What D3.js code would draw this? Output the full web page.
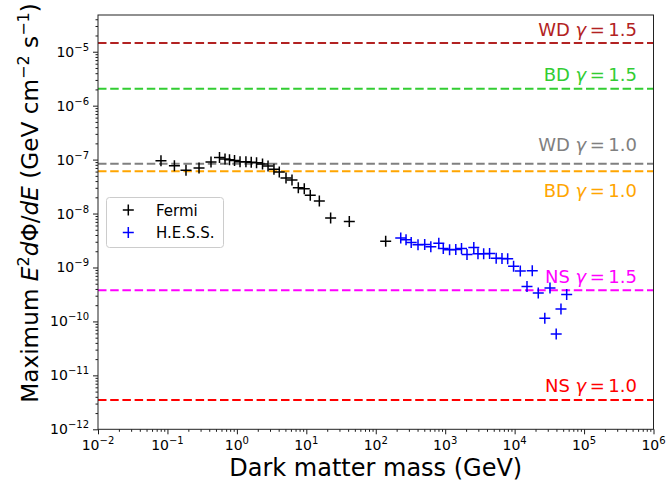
<!DOCTYPE html>
<html><head><meta charset="utf-8">
<script src="https://cdn.jsdelivr.net/npm/d3@7"></script>
<style>
body{margin:0;background:#fff;}
text{font-family:"DejaVu Sans",sans-serif;}
</style></head>
<body><svg id="c" width="668" height="484"></svg>
<script>
// ---- data ----
const fermiMass = [0.0807,0.126,0.185,0.285,0.424,0.562,0.675,0.783,0.925,1.11,1.35,1.61,1.92,2.34,2.81,3.42,4.08,5.10,6.22,7.67,9.35,11.4,15.4,22.4,41.6,139];
const fermiFlux = [9.55e-8,7.71e-8,6.34e-8,6.98e-8,9.03e-8,1.10e-7,1.03e-7,9.95e-8,9.62e-8,9.14e-8,9.14e-8,8.91e-8,8.77e-8,8.28e-8,7.60e-8,6.61e-8,5.89e-8,4.56e-8,4.19e-8,3.01e-8,2.89e-8,2.18e-8,1.71e-8,8.26e-9,7.11e-9,3.05e-9];
const hessMass = [229,273,324,406,507,621,809,939,1157,1421,1718,2061,2582,2966,3583,4357,5425,6577,7943,9660,12070,15070,17950,21900,27200,32300,39700,46500,56200];
const hessFlux = [3.52e-9,3.27e-9,2.90e-9,2.63e-9,2.67e-9,2.43e-9,2.81e-9,2.25e-9,2.14e-9,2.15e-9,2.25e-9,1.74e-9,2.35e-9,1.79e-9,1.79e-9,1.81e-9,1.49e-9,1.47e-9,1.45e-9,1.05e-9,8.61e-10,4.43e-10,8.71e-10,3.37e-10,1.15e-10,4.17e-10,5.85e-11,1.70e-10,3.16e-10];
const limitObject = ["WD","BD","WD","BD","NS","NS"];
const limitGamma = ["1.5","1.5","1.0","1.0","1.5","1.0"];
const limitValue = [1.45e-5,2.07e-6,8.4e-8,6.07e-8,3.78e-10,3.49e-12];
const limitColor = ["#b22222","#32cd32","#808080","#ffa500","#ff00ff","#ff0000"];
const xTickExp = [-2,-1,0,1,2,3,4,5,6];
const yTickExp = [-12,-11,-10,-9,-8,-7,-6,-5];
const legendNames = ["Fermi","H.E.S.S."];
const legendColors = ["#000000","#0000ff"];

// ---- layout ----
const svg = d3.select("#c");
const L=98, R=653.5, T=15, B=429.3;
const x = d3.scaleLog().domain([1e-2,1e6]).range([L,R]);
const y = d3.scaleLog().domain([1e-12,Math.pow(10,-4.319)]).range([B,T]);

function minors(lo,hi){const a=[];for(let e=lo;e<hi;e++)for(let k=2;k<10;k++)a.push(k*Math.pow(10,e));return a;}
const xMinor = minors(-2,6);
const yMinor = minors(-12,-4).filter(v=>v<=y.domain()[1]);

const gx = svg.append("g").attr("transform",`translate(0,${B})`);
gx.call(d3.axisBottom(x).tickValues(xMinor).tickSize(2.5).tickFormat(""));
gx.append("g").call(d3.axisBottom(x).tickValues(xTickExp.map(e=>Math.pow(10,e))).tickSize(5).tickFormat(""));
gx.selectAll(".domain").remove();
gx.selectAll("line").attr("stroke","#000").attr("stroke-width",0.9);

const gy = svg.append("g").attr("transform",`translate(${L},0)`);
gy.call(d3.axisLeft(y).tickValues(yMinor).tickSize(2.5).tickFormat(""));
gy.append("g").call(d3.axisLeft(y).tickValues(yTickExp.map(e=>Math.pow(10,e))).tickSize(5).tickFormat(""));
gy.selectAll(".domain").remove();
gy.selectAll("line").attr("stroke","#000").attr("stroke-width",0.9);

function sup(t, e){
  t.append("tspan").text("10");
  t.append("tspan").attr("dy",-6).attr("font-size",10).text(String(e).replace("-","\u2212"));
}
xTickExp.forEach(e=>{
  const t=svg.append("text").attr("x",x(Math.pow(10,e))).attr("y",450).attr("text-anchor","middle").attr("font-size",14).attr("fill","#000");
  sup(t,e);
});
yTickExp.forEach(e=>{
  const t=svg.append("text").attr("x",89).attr("y",y(Math.pow(10,e))+5).attr("text-anchor","end").attr("font-size",14).attr("fill","#000");
  sup(t,e);
});

// limit lines
const labelDy=[-7,-8,-13,26,-7,-8];
limitValue.forEach((v,i)=>{
  svg.append("line").attr("x1",L).attr("x2",R).attr("y1",y(v)).attr("y2",y(v))
    .attr("stroke",limitColor[i]).attr("stroke-width",2).attr("stroke-dasharray","8.5,3.7");
});

function plus(data, color){
  svg.append("g").selectAll("path").data(data).join("path")
    .attr("d",d=>{const px=x(d[0]),py=y(d[1]),s=5.5;return `M${px-s},${py}H${px+s}M${px},${py-s}V${py+s}`;})
    .attr("stroke",color).attr("stroke-width",1.5).attr("fill","none");
}
plus(fermiMass.map((m,i)=>[m,fermiFlux[i]]),"#000");
plus(hessMass.map((m,i)=>[m,hessFlux[i]]),"#0000ff");

limitValue.forEach((v,i)=>{
  const t=svg.append("text").attr("x",637).attr("y",y(v)+labelDy[i]).attr("text-anchor","end")
    .attr("font-size",18).attr("fill",limitColor[i]);
  t.append("tspan").text(limitObject[i]+" ");
  t.append("tspan").attr("font-style","italic").text("γ");
  t.append("tspan").attr("dx",3.5).text("=");
  t.append("tspan").attr("dx",3.5).text(limitGamma[i]);
});

svg.append("rect").attr("x",L).attr("y",T).attr("width",R-L).attr("height",B-T)
  .attr("fill","none").attr("stroke","#222").attr("stroke-width",1);

const lg = svg.append("g");
lg.append("rect").attr("x",106.5).attr("y",197.5).attr("width",117).attr("height",50).attr("rx",3)
  .attr("fill","#fff").attr("fill-opacity",0.8).attr("stroke","#ccc").attr("stroke-width",1);
legendNames.forEach((n,i)=>{
  const cy = 210 + i*22.5, cx=128.3;
  lg.append("path").attr("d",`M${cx-5.5},${cy}H${cx+5.5}M${cx},${cy-5.5}V${cy+5.5}`)
    .attr("stroke",legendColors[i]).attr("stroke-width",1.5);
  lg.append("text").attr("x",156).attr("y",cy+5.5).attr("font-size",15).attr("fill","#000").text(n);
});

svg.append("text").attr("x",(L+R)/2).attr("y",476).attr("text-anchor","middle").attr("font-size",24).attr("fill","#000")
  .text("Dark matter mass (GeV)");
const yt = svg.append("text").attr("transform","translate(38,203) rotate(-90)").attr("text-anchor","middle")
  .attr("font-size",23.2).attr("fill","#000");
yt.append("tspan").text("Maximum ");
yt.append("tspan").attr("font-style","italic").text("E");
yt.append("tspan").attr("dy",-9).attr("font-size",16).text("2");
yt.append("tspan").attr("dy",9).attr("font-style","italic").text("d");
yt.append("tspan").text("Φ/");
yt.append("tspan").attr("font-style","italic").text("dE");
yt.append("tspan").text(" (GeV cm");
yt.append("tspan").attr("dy",-9).attr("font-size",16).text("\u22122");
yt.append("tspan").attr("dy",9).text(" s");
yt.append("tspan").attr("dy",-9).attr("font-size",16).text("\u22121");
yt.append("tspan").attr("dy",9).text(")");
</script></body></html>
